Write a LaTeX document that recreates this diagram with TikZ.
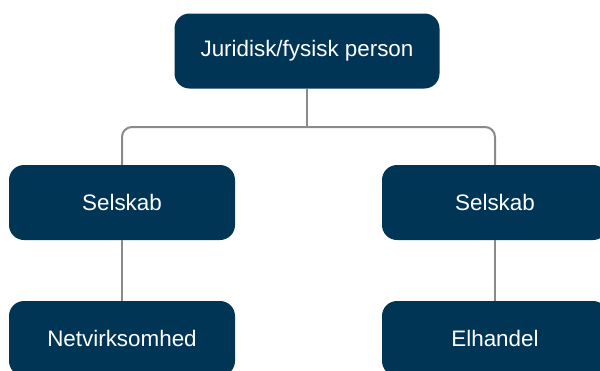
\documentclass[tikz,border=0pt]{standalone}
\usepackage{fontspec}
\setmainfont{Liberation Sans}
\definecolor{navy}{RGB}{1,53,86}
\definecolor{conn}{RGB}{138,138,138}
\begin{document}
\begin{tikzpicture}[x=1pt,y=-1pt,
  box/.style={fill=navy, rounded corners=15pt, text=white,
    font=\fontsize{22.4}{27}\selectfont, minimum height=75pt, inner sep=0pt},
  link/.style={draw=conn, line width=2pt, rounded corners=10pt}]
\useasboundingbox (0,0) rectangle (600,370);
\node[box, minimum width=265pt] (top) at (307,51) {Juridisk/fysisk person};
\node[box, minimum width=226pt] (s1) at (122,202.5) {Selskab};
\node[box, minimum width=226pt] (s2) at (495,202.5) {Selskab};
\node[box, minimum width=226pt] (b1) at (122,338.5) {Netvirksomhed};
\node[box, minimum width=226pt] (b2) at (495,338.5) {Elhandel};
\coordinate (j) at (307,127);
\draw[link] (top.south) -- (j);
\draw[link] (s1.north) |- (j) -| (s2.north);
\draw[link] (s1.south) -- (b1.north);
\draw[link] (s2.south) -- (b2.north);
\end{tikzpicture}
\end{document}
